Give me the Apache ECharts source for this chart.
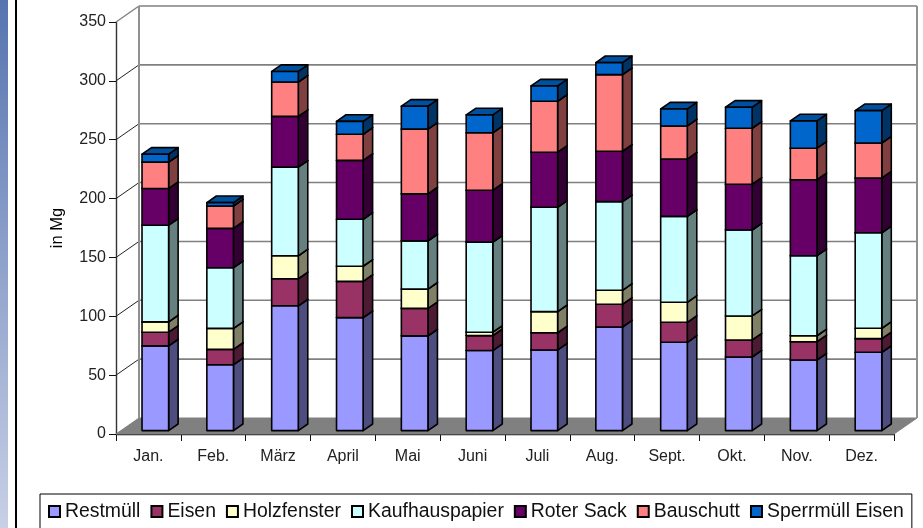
<!DOCTYPE html>
<html><head><meta charset="utf-8">
<style>html,body{margin:0;padding:0;background:#fff}#c{width:923px;height:528px}</style>
<script src="https://cdn.jsdelivr.net/npm/echarts@6/dist/echarts.min.js"></script>
</head><body><div id="c"></div>
<script>
const months = ['Jan.','Feb.','März','April','Mai','Juni','Juli','Aug.','Sept.','Okt.','Nov.','Dez.'];
const yTicks = [0,50,100,150,200,250,300,350];
const restmuell = [72,56,106,96,80.5,68,68.5,88,75,62.5,60,66.5];
const eisen = [11.6,13,23,30.8,23.3,12.7,14.6,19.3,17,14.5,15.5,11.6];
const holzfenster = [8.8,17.8,19.5,12.8,16.4,2.9,18,11.9,17,20.4,5.1,8.8];
const kaufhauspapier = [82.1,51.6,75.3,39.9,41,76.5,88.6,75.3,73,73,68,81.2];
const roterSack = [31.2,33.4,43.1,50.1,39.9,44.1,46.8,42.8,48.7,38.9,64.5,46.5];
const bauschutt = [22.4,19,29.2,22.1,55,48.8,43.3,65.1,28.1,47.5,26.8,29.7];
const sperrmuell = [6.7,2.9,9,11,19.5,15.2,13,10.2,14.4,17.9,23.2,27.5];

const seriesDefs = [
  {name:'Restmüll', values:restmuell, color:'#9999FF', side:'#4D4D80', top:'#7A7ACC'},
  {name:'Eisen', values:eisen, color:'#993366', side:'#4D1A33', top:'#7A2952'},
  {name:'Holzfenster', values:holzfenster, color:'#FFFFCC', side:'#808066', top:'#CCCCA3'},
  {name:'Kaufhauspapier', values:kaufhauspapier, color:'#CCFFFF', side:'#668080', top:'#A3CCCC'},
  {name:'Roter Sack', values:roterSack, color:'#660066', side:'#330033', top:'#520052'},
  {name:'Bauschutt', values:bauschutt, color:'#FF8080', side:'#804040', top:'#CC6666'},
  {name:'Sperrmüll Eisen', values:sperrmuell, color:'#0066CC', side:'#003366', top:'#0050A0'}
];

const WALL_DX = 23, WALL_DY = -16;
const BAR_W = 26.6, BAR_DX = 9.5, BAR_DY = -6.6, BAR_OX = 6.9, BAR_OY = -3.4;
const sans = '"Liberation Sans",Arial,sans-serif';

function renderFloor(params, api){
  const g = params.coordSys;
  const b = g.y + g.height;
  return {type:'polygon', shape:{points:[[g.x,b],[g.x+g.width,b],[g.x+g.width+WALL_DX,b+WALL_DY],[g.x+WALL_DX,b+WALL_DY]]},
    style:{fill:'#808080',stroke:'#808080',lineWidth:1}};
}
function renderWall(params, api){
  const g = params.coordSys;
  const v = api.value(1);
  const y = api.coord([0,v])[1];
  const x0 = g.x, xb = g.x+WALL_DX, xe = g.x+g.width+WALL_DX, yb = y+WALL_DY;
  const isTop = v === yTicks[yTicks.length-1];
  const children = [];
  if (v !== 0) {
    children.push({type:'line',shape:{x1:x0,y1:y,x2:xb,y2:yb},style:{stroke:isTop?'#808080':'#222',lineWidth:isTop?1.4:1}});
    children.push({type:'line',shape:{x1:xb,y1:yb,x2:xe,y2:yb},style:{stroke:'#808080',lineWidth:1.6}});
  }
  if (isTop) {
    const bot = g.y+g.height+WALL_DY;
    children.push({type:'line',shape:{x1:xb,y1:yb,x2:xb,y2:bot},style:{stroke:'#909090',lineWidth:2}});
    children.push({type:'line',shape:{x1:xe,y1:yb,x2:xe,y2:bot},style:{stroke:'#909090',lineWidth:2}});
  }
  return {type:'group',children};
}
function makeBarRenderer(def){
  return function(params, api){
    const lo = api.coord([api.value(0), api.value(1)]);
    const hi = api.coord([api.value(0), api.value(2)]);
    const xl = lo[0]+BAR_OX-BAR_W/2, xr = xl+BAR_W;
    const yb = lo[1]+BAR_OY, yt = hi[1]+BAR_OY;
    const edge = {stroke:'#000',lineWidth:1.6,lineJoin:'round'};
    return {type:'group',children:[
      {type:'polygon',shape:{points:[[xr,yb],[xr+BAR_DX,yb+BAR_DY],[xr+BAR_DX,yt+BAR_DY],[xr,yt]]},style:{fill:def.side,...edge}},
      {type:'polygon',shape:{points:[[xl,yt],[xr,yt],[xr+BAR_DX,yt+BAR_DY],[xl+BAR_DX,yt+BAR_DY]]},style:{fill:def.top,...edge}},
      {type:'rect',shape:{x:xl,y:yt,width:BAR_W,height:yb-yt},style:{fill:def.color,...edge}}
    ]};
  };
}
const running = months.map(()=>0);
const barSeries = seriesDefs.map(def=>{
  const data = def.values.map((v,i)=>{const base=running[i]; running[i]=base+v; return [i,base,running[i]];});
  return {type:'custom',name:def.name,coordinateSystem:'cartesian2d',clip:false,z:5,
    encode:{x:0,y:[1,2]},itemStyle:{color:def.color,borderColor:'#000',borderWidth:1.4},
    renderItem:makeBarRenderer(def),data,silent:true};
});
const chart = echarts.init(document.getElementById('c'),null,{renderer:'canvas'});
chart.setOption({
  animation:false,
  backgroundColor:'#fff',
  graphic:[
    {type:'rect',shape:{x:0,y:0,width:8,height:528},z:0,style:{fill:new echarts.graphic.LinearGradient(0,0,0,1,[{offset:0,color:'#5674B0'},{offset:1,color:'#C8D0E6'}])}},
    {type:'rect',shape:{x:15,y:0,width:2,height:528},z:0,style:{fill:'#000'}}
  ],
  grid:{left:116,top:22,width:778,height:412},
  legend:{
    left:40,top:494,padding:[8,8,30,8],itemGap:10,itemWidth:11,itemHeight:11,
    borderColor:'#000',borderWidth:1,backgroundColor:'#fff',icon:'rect',
    textStyle:{fontFamily:sans,fontSize:19.4,color:'#111'},
    data:seriesDefs.map(d=>d.name)
  },
  xAxis:{type:'category',data:months,boundaryGap:true,
    axisLine:{lineStyle:{color:'#111',width:1.4}},
    axisTick:{show:true,length:7,alignWithLabel:false,lineStyle:{color:'#111'}},
    axisLabel:{interval:0,margin:15,fontFamily:sans,fontSize:16,color:'#222'},splitLine:{show:false}},
  yAxis:{type:'value',min:0,max:350,interval:50,name:'in Mg',nameLocation:'middle',nameGap:50,
    nameTextStyle:{fontFamily:sans,fontSize:16.5,color:'#000'},
    axisLine:{show:true,lineStyle:{color:'#333',width:1.4}},
    axisTick:{show:true,length:7,lineStyle:{color:'#111'}},
    axisLabel:{margin:10,fontFamily:sans,fontSize:16,color:'#222'},splitLine:{show:false}},
  series:[
    {type:'custom',coordinateSystem:'cartesian2d',clip:false,z:1,silent:true,renderItem:renderFloor,data:[[0,0]]},
    {type:'custom',coordinateSystem:'cartesian2d',clip:false,z:2,silent:true,renderItem:renderWall,data:yTicks.map(v=>[0,v])},
    ...barSeries
  ]
});
</script></body></html>
